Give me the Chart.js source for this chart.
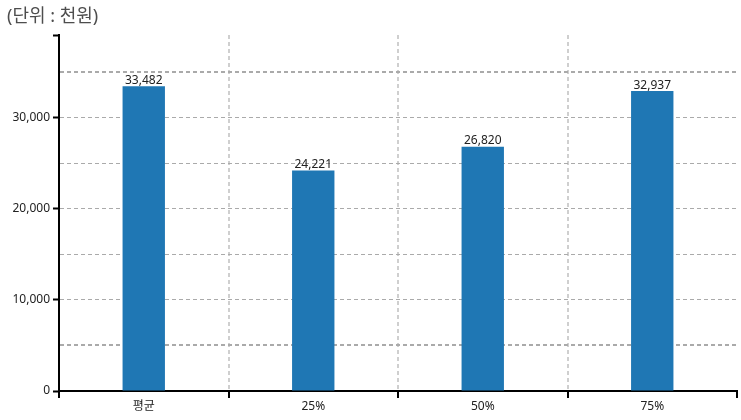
<!DOCTYPE html>
<html>
<head>
<meta charset="utf-8">
<title>단위 천원</title>
<script src="https://cdn.jsdelivr.net/npm/chart.js@4"></script>
<style>
	html, body {margin: 0; padding: 0; background: #fff;}
	#wrap {width: 741px; height: 420px; position: relative;}
</style>
</head>
<body>
<div id="wrap"><canvas id="chart"></canvas></div>
<script>
// values
var categories = ['평균', '25%', '50%', '75%'];
var values = [33482, 24221, 26820, 32937];
var unitText = '(단위 : 천원)';
var yMax = 39100;
var yStep = 5000;

var fontFamily = "'Noto Sans', 'Noto Sans CJK KR', sans-serif";

// unit text in the top-left corner
var unitPlugin = {
	id: 'unitText',
	afterDraw: function (chart) {
		var ctx = chart.ctx;
		ctx.save();
		ctx.font = '18px ' + fontFamily;
		ctx.fillStyle = '#4d4d4d';
		ctx.textAlign = 'left';
		ctx.textBaseline = 'middle';
		ctx.fillText(unitText, 7, 17);
		ctx.restore();
	}
};

// value above each bar
var valuePlugin = {
	id: 'barValues',
	afterDatasetsDraw: function (chart) {
		var ctx = chart.ctx;
		var meta = chart.getDatasetMeta(0);
		ctx.save();
		ctx.font = '12px ' + fontFamily;
		ctx.fillStyle = '#222';
		ctx.textAlign = 'center';
		ctx.textBaseline = 'bottom';
		meta.data.forEach(function (bar, i) {
			ctx.fillText(values[i].toLocaleString('en-US'), bar.x, bar.y);
		});
		ctx.restore();
	}
};

new Chart(document.getElementById('chart'), {
	type: 'bar',
	data: {
		labels: categories,
		datasets: [{
			data: values,
			backgroundColor: '#1f77b4',
			barPercentage: 0.25,
			categoryPercentage: 1
		}]
	},
	options: {
		responsive: true,
		maintainAspectRatio: false,
		animation: false,
		layout: {padding: {top: 35, right: 4, left: 0, bottom: 0}},
		plugins: {
			legend: {display: false},
			tooltip: {enabled: false}
		},
		scales: {
			x: {
				grid: {
					offset: true,
					lineWidth: 2,
					color: function (c) {
						if (c.type !== 'tick' || c.index === 0) return 'rgba(0,0,0,0)';
						return '#cfcfcf';
					},
					tickColor: '#000',
					tickWidth: 2,
					tickLength: 7
				},
				border: {color: '#000', width: 2, dash: [4, 3]},
				ticks: {
					color: '#222',
					padding: 1,
					font: {size: 12, family: fontFamily}
				},
				afterFit: function (scale) {
					scale.height = 29;
				}
			},
			y: {
				min: 0,
				max: yMax,
				afterBuildTicks: function (scale) {
					var t = [];
					for (var v = 0; v < yMax; v += yStep) t.push({value: v});
					t.push({value: yMax});
					scale.ticks = t;
				},
				ticks: {
					autoSkip: false,
					color: '#222',
					padding: 3,
					font: {size: 12, family: fontFamily},
					callback: function (v) {
						if (v % 10000 !== 0) return '';
						return v.toLocaleString('en-US');
					}
				},
				grid: {
					color: function (c) {
						var v = c.tick ? c.tick.value : null;
						if (v === null || v === 0 || v % yStep !== 0) return 'rgba(0,0,0,0)';
						return '#aaaaaa';
					},
					lineWidth: function (c) {
						var v = c.tick ? c.tick.value : null;
						if (v === 5000 || v === 35000) return 2;
						return 1;
					},
					tickColor: function (c) {
						var v = c.tick ? c.tick.value : null;
						if (v === null) return 'rgba(0,0,0,0)';
						if (v % 10000 === 0 || v === yMax) return '#000';
						return 'rgba(0,0,0,0)';
					},
					tickWidth: 2,
					tickLength: 6
				},
				border: {color: '#000', width: 2, dash: [4, 3]},
				afterFit: function (scale) {
					scale.width = 59;
				}
			}
		}
	},
	plugins: [unitPlugin, valuePlugin]
});
</script>
</body>
</html>
